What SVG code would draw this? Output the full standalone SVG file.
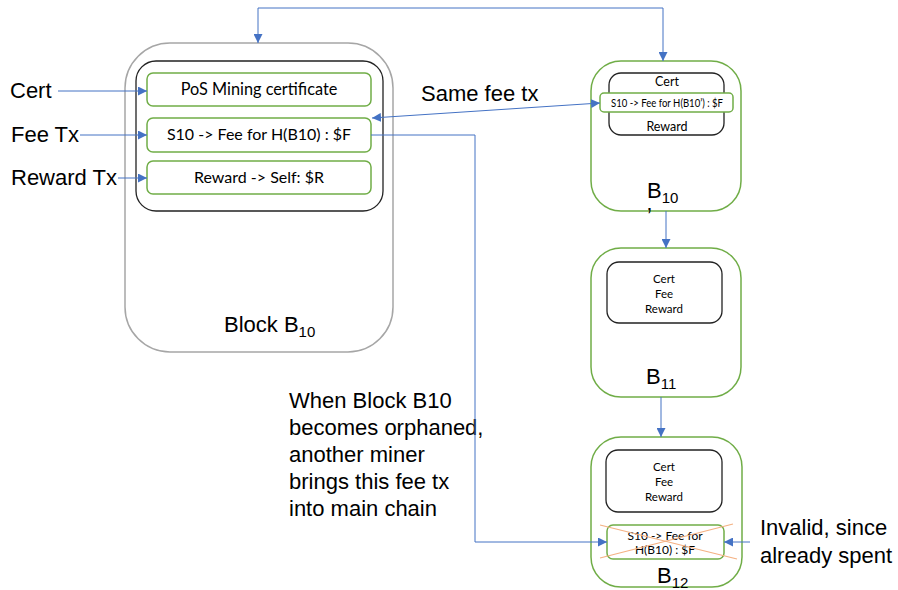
<svg xmlns="http://www.w3.org/2000/svg" width="898" height="590" viewBox="0 0 898 590">
<style>
.big{font-family:"Liberation Sans",Arial,sans-serif;font-size:22px;fill:#000}
.sub{font-size:15px}
.in{font-family:"Lato","Open Sans",sans-serif;fill:#000;text-anchor:middle}
.grn{fill:#fff;stroke:#70AD47;stroke-width:1.5}
.blk{fill:none;stroke:#222;stroke-width:1.3}
.con{fill:none;stroke:#4472C4;stroke-width:1}
.x{stroke:#F4B183;stroke-width:1.2}
</style>
<defs>
<marker id="ah" viewBox="0 0 10 10" refX="10" refY="5" markerWidth="9" markerHeight="9" markerUnits="userSpaceOnUse" orient="auto-start-reverse">
<path d="M0,0 L10,5 L0,10 z" fill="#4472C4"/>
</marker>
</defs>
<rect width="898" height="590" fill="#fff"/>

<g id="blockB10">
<rect x="125" y="43" width="268" height="309" rx="45" fill="#fff" stroke="#A6A6A6" stroke-width="1.5"/>
<rect x="136" y="61" width="247" height="150" rx="20" class="blk"/>
<rect x="147" y="73" width="224" height="33" rx="6" class="grn"/>
<text x="259" y="95" class="in" font-size="16.3">PoS Mining certificate</text>
<rect x="147" y="118" width="224" height="34" rx="6" class="grn"/>
<text x="259" y="140" class="in" font-size="16">S10 -&gt; Fee for H(B10) : $F</text>
<rect x="147" y="161" width="224" height="33" rx="6" class="grn"/>
<text x="259" y="183" class="in" font-size="16">Reward -&gt; Self: $R</text>
<text x="224" y="332" class="big">Block B<tspan class="sub" dy="5">10</tspan></text>
</g>

<g id="blockB10p">
<rect x="591" y="61" width="150" height="150" rx="30" class="grn"/>
<rect x="609" y="73" width="115" height="62" rx="12" class="blk"/>
<text x="667" y="86" class="in" font-size="12.5">Cert</text>
<rect x="600" y="93" width="133" height="19" rx="4" class="grn"/>
<text x="667" y="107" class="in" font-size="11" textLength="112" lengthAdjust="spacingAndGlyphs">S10 -&gt; Fee for H(B10’) : $F</text>
<text x="667" y="131" class="in" font-size="12.5">Reward</text>
<text x="647" y="198" class="big">B<tspan class="sub" dy="5">10</tspan></text>
<text x="647" y="223" class="big">’</text>
</g>

<g id="blockB11">
<rect x="591" y="248" width="150" height="149" rx="30" class="grn"/>
<rect x="607" y="262" width="115" height="61" rx="12" class="blk"/>
<text x="664" y="283" class="in" font-size="11.5">Cert</text>
<text x="664" y="298" class="in" font-size="11.5">Fee</text>
<text x="664" y="313" class="in" font-size="11.5">Reward</text>
<text x="646" y="384" class="big">B<tspan class="sub" dy="5">11</tspan></text>
</g>

<g id="blockB12">
<rect x="591" y="437" width="151" height="150" rx="30" class="grn"/>
<rect x="606" y="450" width="116" height="62" rx="12" class="blk"/>
<text x="664" y="471" class="in" font-size="11.5">Cert</text>
<text x="664" y="486" class="in" font-size="11.5">Fee</text>
<text x="664" y="501" class="in" font-size="11.5">Reward</text>
<rect x="607" y="525" width="117" height="34" rx="6" class="grn"/>
<text x="665" y="540" class="in" font-size="12">S10 -&gt; Fee for</text>
<text x="665" y="554" class="in" font-size="12">H(B10) : $F</text>
<line x1="600" y1="525" x2="737" y2="559" class="x"/>
<line x1="733" y1="524" x2="600" y2="558" class="x"/>
<text x="657" y="583" class="big">B<tspan class="sub" dy="5">12</tspan></text>
</g>

<g id="labels">
<text x="10" y="98" class="big" font-size="22.5">Cert</text>
<text x="11" y="142" class="big" font-size="22.5">Fee Tx</text>
<text x="11" y="185" class="big" font-size="22.5">Reward Tx</text>
<text x="421" y="101" class="big" font-size="22.8">Same fee tx</text>
<text x="289" y="408" class="big">When Block B10</text>
<text x="289" y="435" class="big">becomes orphaned,</text>
<text x="289" y="462" class="big">another miner</text>
<text x="289" y="489" class="big">brings this fee tx</text>
<text x="289" y="516" class="big">into main chain</text>
<text x="760" y="535" class="big">Invalid, since</text>
<text x="760" y="563" class="big">already spent</text>
</g>

<g id="connectors">
<path d="M258,8 L663,8 L663,61" class="con" marker-end="url(#ah)"/>
<path d="M258,8 L258,43" class="con" marker-end="url(#ah)"/>
<path d="M58,91 L147,91" class="con" marker-end="url(#ah)"/>
<path d="M80,135 L147,135" class="con" marker-end="url(#ah)"/>
<path d="M118,178 L147,178" class="con" marker-end="url(#ah)"/>
<path d="M372,118 L600,103" class="con" marker-start="url(#ah)" marker-end="url(#ah)"/>
<path d="M371,135 L475,135 L475,542 L607,542" class="con" marker-end="url(#ah)"/>
<path d="M750,542 L724,542" class="con" marker-end="url(#ah)"/>
<path d="M666,211 L666,248" class="con" marker-end="url(#ah)"/>
<path d="M661,397 L661,437" class="con" marker-end="url(#ah)"/>
</g>
</svg>
